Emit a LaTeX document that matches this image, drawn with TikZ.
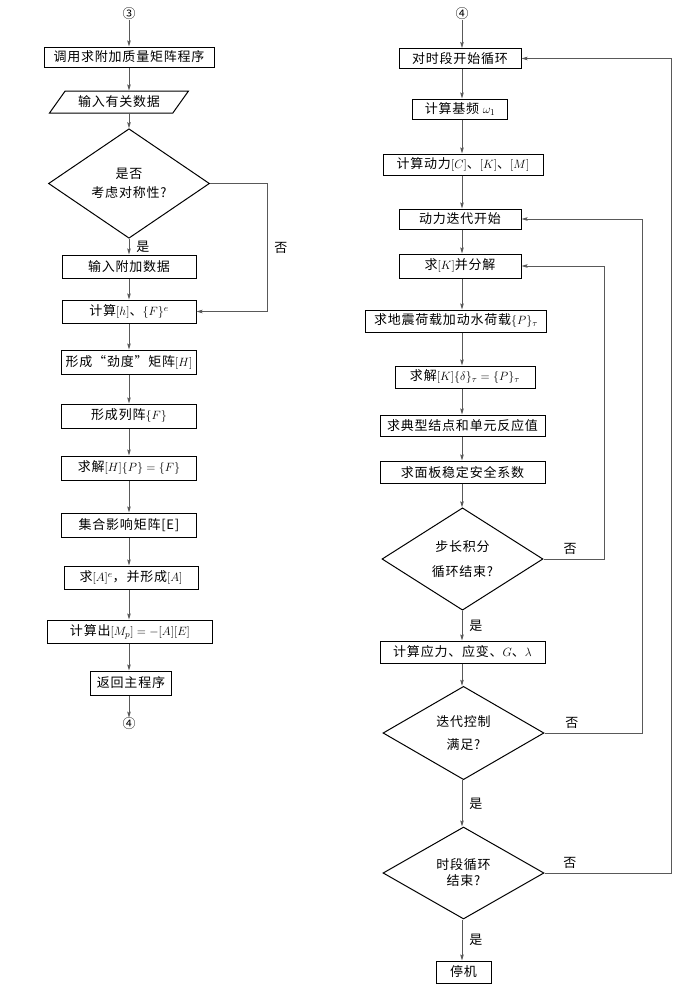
\documentclass[tikz,border=0pt]{standalone}
\usepackage{fontspec}
\setmainfont[LetterSpace=6]{Noto Sans CJK SC}
\usetikzlibrary{arrows.meta,shapes.geometric,positioning}

\begin{document}
\begin{tikzpicture}
    [x=1pt,y=-1pt,inner sep=1pt,font=\fontsize{13}{16}\selectfont,
    box/.style={rectangle,draw=black,line width=1pt,minimum height=22},
    io/.style={trapezium,trapezium left angle=49,trapezium right angle=131,trapezium stretches=true,draw=black,line width=1pt,minimum width=139,minimum height=22},
    test/.style={diamond,draw=black,line width=1pt,minimum width=161,minimum height=92,align=center},
    conn/.style={inner sep=0pt},
    flow/.style={draw=black!65,line width=0.8pt,-{Stealth[length=6pt,width=3.5pt,inset=1pt]}}]
    \useasboundingbox (0,0) rectangle (696,989);
    % left column
    \node (c3) at (129,14) [conn] {③};
    \node (callm) at (129,57) [box,minimum width=170,minimum height=20] {调用求附加质量矩阵程序};
    \node (indata) at (119,102) [io] {输入有关数据};
    \node (sym) at (129,183.5) [test] {是否\\[3pt]考虑对称性?};
    \node (addin) at (129,266.5) [box,minimum width=134,minimum height=23] {输入附加数据};
    \node (calch) at (129,311.5) [box,minimum width=134,minimum height=23] {计算$[h]$、$\{F\}^e$};
    \node (formH) at (129,362) [box,minimum width=135,minimum height=24] {形成“劲度”矩阵$[H]$};
    \node (formF) at (129,416) [box,minimum width=135,minimum height=24] {形成列阵$\{F\}$};
    \node (solveP) at (129,468) [box,minimum width=135,minimum height=24] {求解$[H]\{P\}=\{F\}$};
    \node (setE) at (129,525) [box,minimum width=135,minimum height=24] {集合影响矩阵[E]};
    \node (formA) at (131,577.5) [box,minimum width=134,minimum height=23] {求$[A]^e$，并形成$[A]$};
    \node (calcM) at (130,631.5) [box,minimum width=165,minimum height=23] {计算出$[M_p]=-[A][E]$};
    \node (ret) at (131,683) [box,minimum width=81,minimum height=24] {返回主程序};
    \node (c4a) at (129,724) [conn] {④};

    \draw[flow] (c3) -- (c3 |- callm.north);
    \draw[flow] (c3 |- callm.south) -- (c3 |- indata.north);
    \draw[flow] (c3 |- indata.south) -- (sym.north);
    \draw[flow] (sym.south) -- node[right=6pt] {是} (c3 |- addin.north);
    \draw[flow] (c3 |- addin.south) -- (c3 |- calch.north);
    \coordinate (symx) at (267,311.5);
    \draw[flow] (sym.east) -| node[pos=0.75,right=6pt] {否} (symx) -- (calch.east);
    \draw[flow] (c3 |- calch.south) -- (c3 |- formH.north);
    \draw[flow] (c3 |- formH.south) -- (c3 |- formF.north);
    \draw[flow] (c3 |- formF.south) -- (c3 |- solveP.north);
    \draw[flow] (c3 |- solveP.south) -- (c3 |- setE.north);
    \draw[flow] (c3 |- setE.south) -- (c3 |- formA.north);
    \draw[flow] (c3 |- formA.south) -- (c3 |- calcM.north);
    \draw[flow] (c3 |- calcM.south) -- (c3 |- ret.north);
    \draw[flow] (c3 |- ret.south) -- (c4a);

    % right column
    \node (c4b) at (462,14) [conn] {④};
    \node (tstart) at (460,58.5) [box,minimum width=122,minimum height=20] {对时段开始循环};
    \node (omega) at (460,109) [box,minimum width=95,minimum height=20] {计算基频 $\omega_1$};
    \node (dyn) at (463,164.5) [box,minimum width=160,minimum height=21] {计算动力$[C]$、$[K]$、$[M]$};
    \node (iter) at (460,219) [box,minimum width=122,minimum height=20] {动力迭代开始};
    \node (kdec) at (460,266) [box,minimum width=122,minimum height=24] {求$[K]$并分解};
    \node (load) at (456,321) [box,minimum width=181,minimum height=22] {求地震荷载加动水荷载$\{P\}_\tau$};
    \node (solveK) at (465,377) [box,minimum width=140,minimum height=22] {求解$[K]\{\delta\}_\tau=\{P\}_\tau$};
    \node (resp) at (462.5,425.5) [box,minimum width=165,minimum height=21] {求典型结点和单元反应值};
    \node (safe) at (462.5,472) [box,minimum width=165,minimum height=22] {求面板稳定安全系数};
    \node (stepend) at (462.5,559) [test] {步长积分\\[9pt]循环结束?};
    \node (stress) at (462.5,652) [box,minimum width=165,minimum height=22] {计算应力、应变、$G$、$\lambda$};
    \node (itok) at (463.5,733) [test] {迭代控制\\[7pt]满足?};
    \node (tend) at (463.5,873) [test] {时段循环\\结束?};
    \node (stop) at (463.5,972) [box,minimum width=55,minimum height=22] {停机};

    \draw[flow] (c4b) -- (c4b |- tstart.north);
    \draw[flow] (c4b |- tstart.south) -- (c4b |- omega.north);
    \draw[flow] (c4b |- omega.south) -- (c4b |- dyn.north);
    \draw[flow] (c4b |- dyn.south) -- (c4b |- iter.north);
    \draw[flow] (c4b |- iter.south) -- (c4b |- kdec.north);
    \draw[flow] (c4b |- kdec.south) -- (c4b |- load.north);
    \draw[flow] (c4b |- load.south) -- (c4b |- solveK.north);
    \draw[flow] (c4b |- solveK.south) -- (c4b |- resp.north);
    \draw[flow] (c4b |- resp.south) -- (c4b |- safe.north);
    \draw[flow] (c4b |- safe.south) -- (c4b |- stepend.north);
    \draw[flow] (c4b |- stepend.south) -- node[right=6pt] {是} (c4b |- stress.north);
    \draw[flow] (c4b |- stress.south) -- (c4b |- itok.north);
    \draw[flow] (c4b |- itok.south) -- node[right=6pt] {是} (c4b |- tend.north);
    \draw[flow] (c4b |- tend.south) -- node[right=6pt] {是} (c4b |- stop.north);

    \coordinate (loopk) at (604,266);
    \draw[flow] (stepend.east) -| node[pos=0.22,above=3pt] {否} (loopk) -- (kdec.east);
    \coordinate (loopi) at (642,219);
    \draw[flow] (itok.east) -| node[pos=0.14,above=3pt] {否} (loopi) -- (iter.east);
    \coordinate (loopt) at (671,58.5);
    \draw[flow] (tend.east) -| node[pos=0.1,above=3pt] {否} (loopt) -- (tstart.east);
\end{tikzpicture}
\end{document}
